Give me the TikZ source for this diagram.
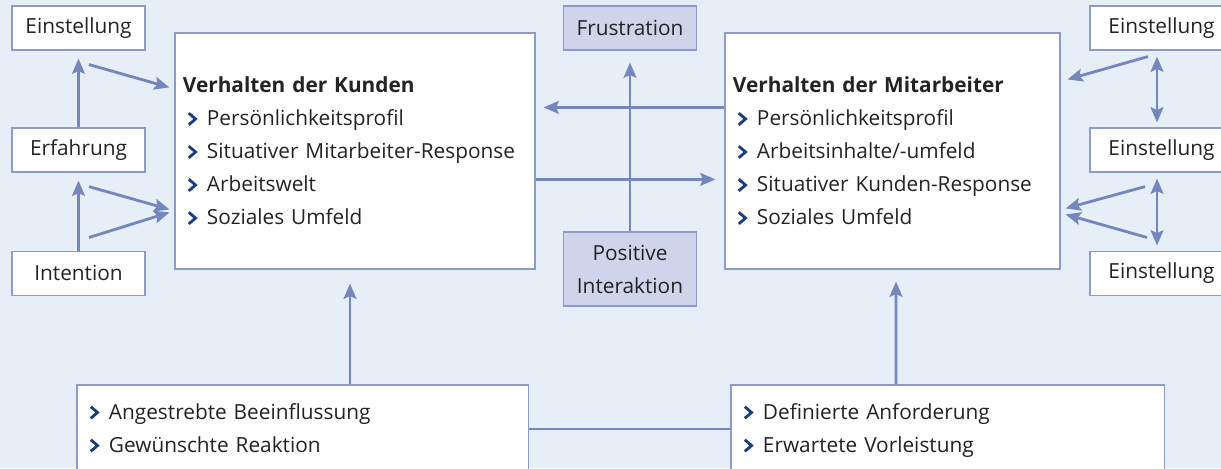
\documentclass[tikz,border=0pt]{standalone}
\usepackage{fontspec}
\setmainfont{Open Sans}
\usetikzlibrary{arrows.meta,positioning}
\definecolor{grund}{RGB}{230,238,248}
\definecolor{linie}{RGB}{116,134,190}
\definecolor{rand}{RGB}{140,154,204}
\definecolor{lila}{RGB}{206,212,234}
\definecolor{punkt}{RGB}{24,62,128}
\definecolor{schrift}{RGB}{35,35,35}
% Aufzaehlungszeichen als kleiner Winkel
\newcommand{\pfeil}{\makebox[0.6cm][l]{\hspace{0.11cm}\tikz[baseline=0pt]
  \draw[punkt, line width=2pt] (0cm,0.02cm) -- (0.17cm,0.165cm) -- (0cm,0.31cm);}}
\tikzset{
  basic/.style  = {draw=rand, line width=0.8pt, fill=white, rectangle,
                   text=schrift, font=\fontsize{14.8}{23.5}\selectfont},
  klein/.style  = {basic, minimum width=3.325cm, minimum height=1.1cm,
                   inner sep=0pt, align=center},
  gefuehl/.style = {klein, fill=lila},
  gross/.style  = {basic, align=left, inner xsep=0.2cm, minimum height=5.9cm},
  ziel/.style   = {basic, align=left, inner xsep=0.2cm, minimum height=2.2cm},
  conn/.style   = {draw=linie, line width=2pt}
}
\begin{document}
\begin{tikzpicture}[x=0.025cm, y=-0.025cm,
  >={Stealth[length=0.38cm, width=0.32cm, inset=0.07cm]}]

\fill[grund] (0,0) rectangle (1221,468);
\useasboundingbox (0,0) rectangle (1221,468);

% linke Seite: Kunde
\node[klein] (einL) at (78.5,28) {Einstellung};
\node[klein, below of=einL, node distance=3.05cm] (erfL) {Erfahrung};
\node[klein, below of=erfL, node distance=3.075cm] (intL) {Intention};

\node[gross, text width=8.6cm] (kunden) at (355,151) {\textbf{Verhalten der Kunden}\\
  \pfeil Persönlichkeitsprofil\\
  \pfeil Situativer Mitarbeiter-Response\\
  \pfeil Arbeitswelt\\
  \pfeil Soziales Umfeld};

% Mitte
\node[gefuehl] (frus) at (630,28) {Frustration};
\node[gefuehl, minimum height=1.85cm] (pos) at (630,269) {Positive\\ Interaktion};

% rechte Seite: Mitarbeiter
\node[gross, text width=7.975cm] (mit) at (892.5,151) {\textbf{Verhalten der Mitarbeiter}\\
  \pfeil Persönlichkeitsprofil\\
  \pfeil Arbeitsinhalte/-umfeld\\
  \pfeil Situativer Kunden-Response\\
  \pfeil Soziales Umfeld};

\begin{scope}[every node/.style={klein, minimum width=3.575cm}]
\node (einR1) at (1161.5,28) {Einstellung};
\node [below of=einR1, node distance=3.05cm] (einR2) {Einstellung};
\node [below of=einR2, node distance=3.075cm] (einR3) {Einstellung};
\end{scope}

% untere Zeile
\node[ziel, text width=10.875cm] (zielK) at (302.5,429) {\pfeil Angestrebte Beeinflussung\strut\\
  \pfeil Gewünschte Reaktion\strut};
\node[ziel, text width=10.425cm] (zielM) at (947.5,429) {\pfeil Definierte Anforderung\strut\\
  \pfeil Erwartete Vorleistung\strut};

% Pfeile links
\draw[conn,->] (erfL.north) -- ([shift={(0,8)}]einL.south);
\draw[conn,->] (intL.north) -- ([shift={(0,8)}]erfL.south);
\draw[conn,->] ([shift={(10.5,14)}]einL.south) -- ([shift={(-5,55)}]kunden.north west);
\draw[conn,->] ([shift={(10.5,14)}]erfL.south) -- ([shift={(-5,177)}]kunden.north west);
\draw[conn,->] ([shift={(10.5,-13)}]intL.north) -- ([shift={(-5,180)}]kunden.north west);

% Pfeile rechts
\draw[conn,->] ([shift={(-13.5,6)}]einR1.south) -- ([shift={(7,47)}]mit.north east);
\draw[conn,->] ([shift={(-16.5,14)}]einR2.south) -- ([shift={(5,176)}]mit.north east);
\draw[conn,->] ([shift={(-14.5,-13)}]einR3.north) -- ([shift={(5,182)}]mit.north east);
\foreach \von/\nach in {einR1/einR2, einR2/einR3}
  \draw[conn,<->] ([shift={(-4.5,6)}]\von.south) -- ([shift={(-4.5,-5)}]\nach.north);

% Pfeile Mitte
\draw[conn,->] ([shift={(0,75)}]mit.north west) -- ([shift={(8,75)}]kunden.north east);
\draw[conn,->] ([shift={(0,147)}]kunden.north east) -- ([shift={(-9,147)}]mit.north west);
\draw[conn,->] (pos.north) -- ([shift={(0,12)}]frus.south);

% Pfeile unten
\draw[conn,->] ([shift={(47.5,0)}]zielK.north) -- ([shift={(-5,14)}]kunden.south);
\draw[conn,->] ([shift={(-51.5,0)}]zielM.north) -- ([shift={(3.5,12)}]mit.south);
\draw[conn] (zielK) -- (zielM);
\end{tikzpicture}
\end{document}
